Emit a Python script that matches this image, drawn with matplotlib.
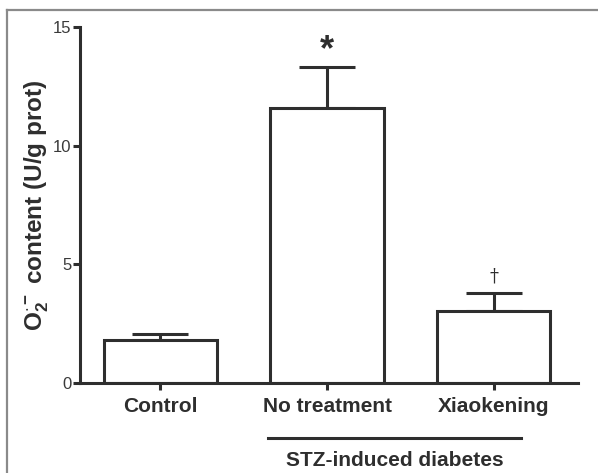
import numpy as np
import matplotlib
matplotlib.use('Agg')
import matplotlib.pyplot as plt
from matplotlib.lines import Line2D

# data
groups = ['Control', 'No treatment', 'Xiaokening']
means = [1.81, 11.6, 3.05]
sem = [0.27, 1.7, 0.73]
marks = ['', '*', '\u2020']
group_label = 'STZ-induced diabetes'

plt.rcParams['font.family'] = ['Liberation Sans', 'DejaVu Sans']
plt.rcParams['mathtext.fontset'] = 'custom'
plt.rcParams['mathtext.rm'] = 'Liberation Sans:bold'
plt.rcParams['mathtext.bf'] = 'Liberation Sans:bold'
plt.rcParams['mathtext.it'] = 'Liberation Sans:bold'

ink = '#2e2e2e'
lw = 2.2

fig = plt.figure(figsize=(5.98, 4.73), dpi=100)
ax = fig.add_axes([80 / 598, 1 - 383 / 473, (578 - 80) / 598, (383 - 27) / 473])

x = np.arange(len(groups))
ax.errorbar(x, means, yerr=[np.zeros(len(sem)), sem], fmt='none', ecolor=ink,
            elinewidth=lw, capsize=20, capthick=lw, zorder=1)
ax.bar(x, means, width=0.68, color='white', edgecolor=ink, linewidth=lw, zorder=2)

for xi, m, s, mk in zip(x, means, sem, marks):
    if mk == '*':
        ax.text(xi, m + s + 0.72, mk, ha='center', va='center', fontsize=26,
                fontweight='bold', color=ink)
    elif mk:
        ax.text(xi, m + s + 0.7, mk, ha='center', va='center', fontsize=13,
                family='DejaVu Serif', color=ink)

ax.set_xlim(-0.483, 2.507)
ax.set_ylim(0, 15)
ax.set_yticks([0, 5, 10, 15])
ax.set_xticks(x)
ax.set_xticklabels(groups, fontsize=15, fontweight='bold', color=ink)
ax.tick_params(axis='y', length=5, width=lw, color=ink, labelsize=12,
               labelcolor='#3a3a3a', pad=1)
ax.tick_params(axis='x', length=5, width=lw, color=ink, pad=5)
for side in ['top', 'right']:
    ax.spines[side].set_visible(False)
for side in ['left', 'bottom']:
    ax.spines[side].set_linewidth(lw)
    ax.spines[side].set_color(ink)

ax.set_ylabel(r'O$_2^{\cdot-}$ content (U/g prot)', fontsize=17.5,
              fontweight='bold', color=ink)
ax.yaxis.set_label_coords(-0.058, 0.5)

# bracket for the diabetic groups
tr = ax.get_xaxis_transform()
ax.plot([0.646, 2.165], [-0.154, -0.154], transform=tr, color=ink, lw=lw,
        clip_on=False)
ax.text(1.408, -0.219, group_label, transform=tr, ha='center', va='center',
        fontsize=15, fontweight='bold', color=ink)

# gray frame around the figure
fig.add_artist(Line2D([7 / 598, 1], [1 - 10 / 473, 1 - 10 / 473],
                      transform=fig.transFigure, color='#8a8a8a', lw=1.6))
fig.add_artist(Line2D([7 / 598, 7 / 598], [0, 1 - 10 / 473],
                      transform=fig.transFigure, color='#8a8a8a', lw=1.6))

fig.savefig('out.png', dpi=100)
